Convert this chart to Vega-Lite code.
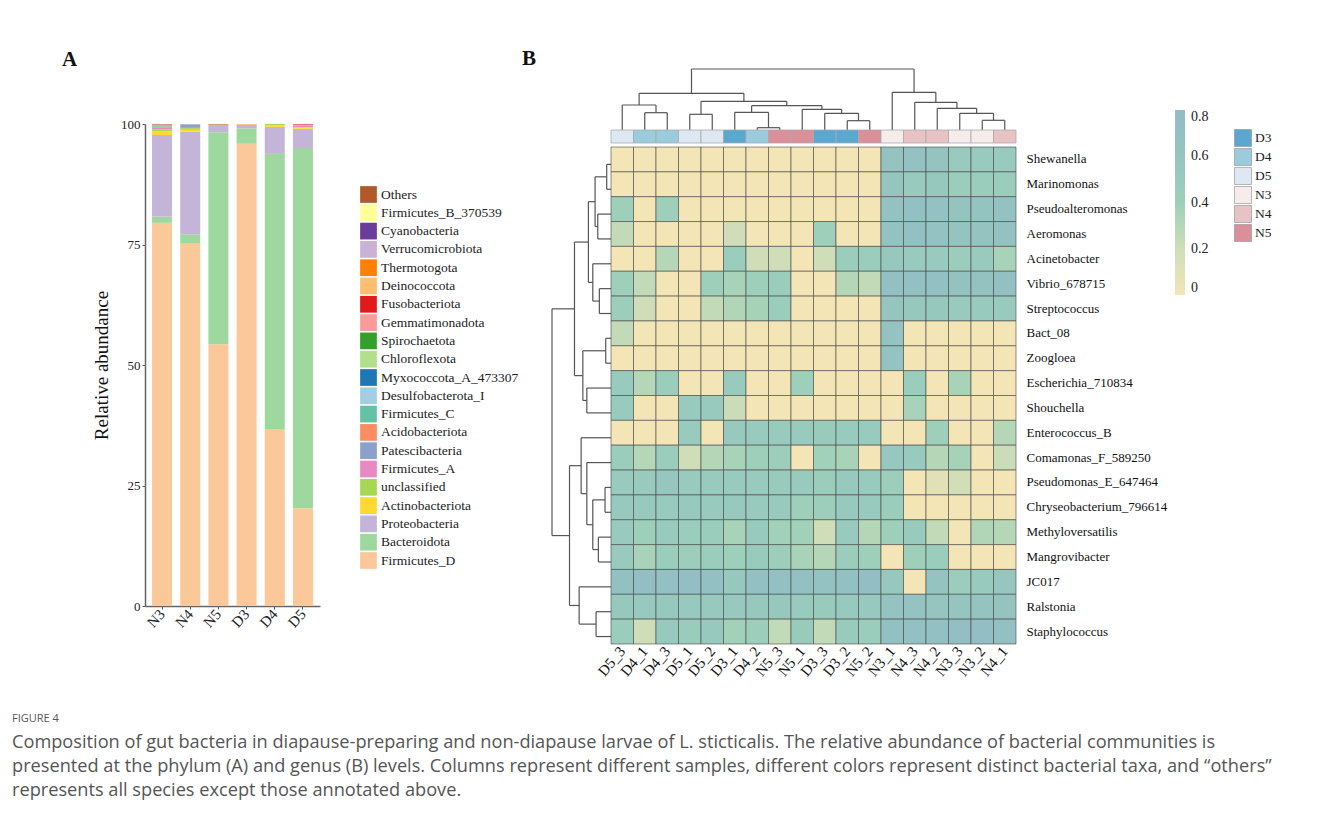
{
"$schema": "https://vega.github.io/schema/vega-lite/v6.json",
"background": "white",
"padding": {"left": 12, "top": 48, "right": 5, "bottom": 5},
"config": {"view": {"stroke": null}, "font": "Liberation Serif", "axis": {"grid": false}},
"title": {
  "text": "FIGURE 4",
  "subtitle": ["Composition of gut bacteria in diapause-preparing and non-diapause larvae of L. sticticalis. The relative abundance of bacterial communities is", "presented at the phylum (A) and genus (B) levels. Columns represent different samples, different colors represent distinct bacterial taxa, and “others”", "represents all species except those annotated above."],
  "orient": "bottom", "anchor": "start", "frame": "bounds", "dx": -50, "offset": 34,
  "font": "Open Sans", "fontSize": 11, "fontWeight": "normal", "color": "#555",
  "subtitleFont": "Open Sans", "subtitleFontSize": 18.2, "subtitleColor": "#555", "subtitleLineHeight": 24, "subtitlePadding": 10
},
"datasets": {
  "phyla": [
    {"s":"N3","p":"Firmicutes_D","v":79.5,"r":1},{"s":"N3","p":"Bacteroidota","v":1.3,"r":2},{"s":"N3","p":"Proteobacteria","v":16.9,"r":3},{"s":"N3","p":"Actinobacteriota","v":0.8,"r":4},{"s":"N3","p":"unclassified","v":0.35,"r":5},{"s":"N3","p":"Firmicutes_A","v":0.4,"r":6},{"s":"N3","p":"Patescibacteria","v":0.1,"r":7},{"s":"N3","p":"Acidobacteriota","v":0.1,"r":8},{"s":"N3","p":"Firmicutes_C","v":0.3,"r":9},{"s":"N3","p":"Desulfobacterota_I","v":0.05,"r":10},{"s":"N3","p":"Gemmatimonadota","v":0.1,"r":14},{"s":"N3","p":"Others","v":0.1,"r":21},
    {"s":"N4","p":"Firmicutes_D","v":75.3,"r":1},{"s":"N4","p":"Bacteroidota","v":1.8,"r":2},{"s":"N4","p":"Proteobacteria","v":21.3,"r":3},{"s":"N4","p":"Actinobacteriota","v":0.4,"r":4},{"s":"N4","p":"unclassified","v":0.35,"r":5},{"s":"N4","p":"Firmicutes_A","v":0.05,"r":6},{"s":"N4","p":"Patescibacteria","v":0.7,"r":7},{"s":"N4","p":"Acidobacteriota","v":0.05,"r":8},{"s":"N4","p":"Firmicutes_C","v":0.05,"r":9},
    {"s":"N5","p":"Firmicutes_D","v":54.3,"r":1},{"s":"N5","p":"Bacteroidota","v":44.0,"r":2},{"s":"N5","p":"Proteobacteria","v":1.5,"r":3},{"s":"N5","p":"Deinococcota","v":0.1,"r":16},{"s":"N5","p":"Others","v":0.1,"r":21},
    {"s":"D3","p":"Firmicutes_D","v":95.9,"r":1},{"s":"D3","p":"Bacteroidota","v":3.2,"r":2},{"s":"D3","p":"Proteobacteria","v":0.7,"r":3},{"s":"D3","p":"Acidobacteriota","v":0.1,"r":8},{"s":"D3","p":"Deinococcota","v":0.1,"r":16},
    {"s":"D4","p":"Firmicutes_D","v":36.7,"r":1},{"s":"D4","p":"Bacteroidota","v":57.1,"r":2},{"s":"D4","p":"Proteobacteria","v":5.6,"r":3},{"s":"D4","p":"Actinobacteriota","v":0.3,"r":4},{"s":"D4","p":"unclassified","v":0.3,"r":5},
    {"s":"D5","p":"Firmicutes_D","v":20.3,"r":1},{"s":"D5","p":"Bacteroidota","v":74.7,"r":2},{"s":"D5","p":"Proteobacteria","v":4.0,"r":3},{"s":"D5","p":"Actinobacteriota","v":0.3,"r":4},{"s":"D5","p":"Firmicutes_A","v":0.4,"r":6},{"s":"D5","p":"Gemmatimonadota","v":0.2,"r":14},{"s":"D5","p":"Fusobacteriota","v":0.1,"r":15}
  ],
  "groups": [
    {"s":"D5_3","grp":"D5"},{"s":"D4_1","grp":"D4"},{"s":"D4_3","grp":"D4"},{"s":"D5_1","grp":"D5"},{"s":"D5_2","grp":"D5"},{"s":"D3_1","grp":"D3"},{"s":"D4_2","grp":"D4"},{"s":"N5_3","grp":"N5"},{"s":"N5_1","grp":"N5"},{"s":"D3_3","grp":"D3"},{"s":"D3_2","grp":"D3"},{"s":"N5_2","grp":"N5"},{"s":"N3_1","grp":"N3"},{"s":"N4_3","grp":"N4"},{"s":"N4_2","grp":"N4"},{"s":"N3_3","grp":"N3"},{"s":"N3_2","grp":"N3"},{"s":"N4_1","grp":"N4"}
  ],
  "dtop": [
    {"a":1.5,"b":2.5,"h":17.3,"ha":0,"hb":0},{"a":0.5,"b":2.0,"h":25,"ha":0,"hb":17.3},{"a":3.5,"b":4.5,"h":15.7,"ha":0,"hb":0},{"a":6.5,"b":7.5,"h":2.3,"ha":0,"hb":0},{"a":5.5,"b":7.0,"h":17.7,"ha":0,"hb":2.3},{"a":10.5,"b":11.5,"h":9.3,"ha":0,"hb":0},{"a":9.5,"b":11.0,"h":16.7,"ha":0,"hb":9.3},{"a":8.5,"b":10.25,"h":20.7,"ha":0,"hb":16.7},{"a":6.25,"b":9.375,"h":24.3,"ha":17.7,"hb":20.7},{"a":4.0,"b":7.8125,"h":28.7,"ha":15.7,"hb":24.3},{"a":1.25,"b":5.906,"h":36.7,"ha":25,"hb":28.7},
    {"a":16.5,"b":17.5,"h":9.7,"ha":0,"hb":0},{"a":15.5,"b":17.0,"h":16.7,"ha":0,"hb":9.7},{"a":14.5,"b":16.25,"h":21.7,"ha":0,"hb":16.7},{"a":13.5,"b":15.375,"h":27.7,"ha":0,"hb":21.7},{"a":12.5,"b":14.4375,"h":37.7,"ha":0,"hb":27.7},{"a":3.578,"b":13.469,"h":61,"ha":36.7,"hb":37.7}
  ],
  "dleft": [
    {"a":0.5,"b":1.5,"h":4.3,"ha":0,"hb":0},{"a":2.5,"b":3.5,"h":13.3,"ha":0,"hb":0},{"a":1.0,"b":3.0,"h":16,"ha":4.3,"hb":13.3},{"a":5.5,"b":6.5,"h":11.7,"ha":0,"hb":0},{"a":4.5,"b":6.0,"h":18.3,"ha":0,"hb":11.7},{"a":2.0,"b":5.25,"h":22.7,"ha":16,"hb":18.3},{"a":7.5,"b":8.5,"h":5.3,"ha":0,"hb":0},{"a":9.5,"b":10.5,"h":24.3,"ha":0,"hb":0},{"a":8.0,"b":10.0,"h":28.3,"ha":5.3,"hb":24.3},{"a":3.625,"b":9.0,"h":36.7,"ha":22.7,"hb":28.3},
    {"a":13.5,"b":14.5,"h":6,"ha":0,"hb":0},{"a":15.5,"b":16.5,"h":12.7,"ha":0,"hb":0},{"a":14.0,"b":16.0,"h":18.3,"ha":6,"hb":12.7},{"a":12.5,"b":15.0,"h":24.3,"ha":0,"hb":18.3},{"a":11.5,"b":13.75,"h":30,"ha":0,"hb":24.3},{"a":18.5,"b":19.5,"h":15,"ha":0,"hb":0},{"a":17.5,"b":19.0,"h":32,"ha":0,"hb":15},{"a":12.625,"b":18.25,"h":41.7,"ha":30,"hb":32},{"a":6.3125,"b":15.4375,"h":59.3,"ha":36.7,"hb":41.7}
  ],
  "heat": [
    {"g":"Shewanella","s":"D5_3","v":0},{"g":"Shewanella","s":"D4_1","v":0},{"g":"Shewanella","s":"D4_3","v":0},{"g":"Shewanella","s":"D5_1","v":0},{"g":"Shewanella","s":"D5_2","v":0},{"g":"Shewanella","s":"D3_1","v":0},{"g":"Shewanella","s":"D4_2","v":0},{"g":"Shewanella","s":"N5_3","v":0},{"g":"Shewanella","s":"N5_1","v":0},{"g":"Shewanella","s":"D3_3","v":0},{"g":"Shewanella","s":"D3_2","v":0},{"g":"Shewanella","s":"N5_2","v":0},{"g":"Shewanella","s":"N3_1","v":0.62},{"g":"Shewanella","s":"N4_3","v":0.68},{"g":"Shewanella","s":"N4_2","v":0.62},{"g":"Shewanella","s":"N3_3","v":0.5},{"g":"Shewanella","s":"N3_2","v":0.5},{"g":"Shewanella","s":"N4_1","v":0.5},
    {"g":"Marinomonas","s":"D5_3","v":0},{"g":"Marinomonas","s":"D4_1","v":0},{"g":"Marinomonas","s":"D4_3","v":0},{"g":"Marinomonas","s":"D5_1","v":0},{"g":"Marinomonas","s":"D5_2","v":0},{"g":"Marinomonas","s":"D3_1","v":0},{"g":"Marinomonas","s":"D4_2","v":0},{"g":"Marinomonas","s":"N5_3","v":0},{"g":"Marinomonas","s":"N5_1","v":0},{"g":"Marinomonas","s":"D3_3","v":0},{"g":"Marinomonas","s":"D3_2","v":0},{"g":"Marinomonas","s":"N5_2","v":0},{"g":"Marinomonas","s":"N3_1","v":0.6},{"g":"Marinomonas","s":"N4_3","v":0.5},{"g":"Marinomonas","s":"N4_2","v":0.55},{"g":"Marinomonas","s":"N3_3","v":0.45},{"g":"Marinomonas","s":"N3_2","v":0.45},{"g":"Marinomonas","s":"N4_1","v":0.45},
    {"g":"Pseudoalteromonas","s":"D5_3","v":0.4},{"g":"Pseudoalteromonas","s":"D4_1","v":0},{"g":"Pseudoalteromonas","s":"D4_3","v":0.4},{"g":"Pseudoalteromonas","s":"D5_1","v":0},{"g":"Pseudoalteromonas","s":"D5_2","v":0},{"g":"Pseudoalteromonas","s":"D3_1","v":0},{"g":"Pseudoalteromonas","s":"D4_2","v":0},{"g":"Pseudoalteromonas","s":"N5_3","v":0},{"g":"Pseudoalteromonas","s":"N5_1","v":0},{"g":"Pseudoalteromonas","s":"D3_3","v":0},{"g":"Pseudoalteromonas","s":"D3_2","v":0},{"g":"Pseudoalteromonas","s":"N5_2","v":0},{"g":"Pseudoalteromonas","s":"N3_1","v":0.68},{"g":"Pseudoalteromonas","s":"N4_3","v":0.72},{"g":"Pseudoalteromonas","s":"N4_2","v":0.68},{"g":"Pseudoalteromonas","s":"N3_3","v":0.62},{"g":"Pseudoalteromonas","s":"N3_2","v":0.62},{"g":"Pseudoalteromonas","s":"N4_1","v":0.68},
    {"g":"Aeromonas","s":"D5_3","v":0.25},{"g":"Aeromonas","s":"D4_1","v":0},{"g":"Aeromonas","s":"D4_3","v":0},{"g":"Aeromonas","s":"D5_1","v":0},{"g":"Aeromonas","s":"D5_2","v":0},{"g":"Aeromonas","s":"D3_1","v":0.2},{"g":"Aeromonas","s":"D4_2","v":0},{"g":"Aeromonas","s":"N5_3","v":0},{"g":"Aeromonas","s":"N5_1","v":0},{"g":"Aeromonas","s":"D3_3","v":0.4},{"g":"Aeromonas","s":"D3_2","v":0},{"g":"Aeromonas","s":"N5_2","v":0},{"g":"Aeromonas","s":"N3_1","v":0.68},{"g":"Aeromonas","s":"N4_3","v":0.72},{"g":"Aeromonas","s":"N4_2","v":0.68},{"g":"Aeromonas","s":"N3_3","v":0.62},{"g":"Aeromonas","s":"N3_2","v":0.62},{"g":"Aeromonas","s":"N4_1","v":0.66},
    {"g":"Acinetobacter","s":"D5_3","v":0},{"g":"Acinetobacter","s":"D4_1","v":0},{"g":"Acinetobacter","s":"D4_3","v":0.3},{"g":"Acinetobacter","s":"D5_1","v":0},{"g":"Acinetobacter","s":"D5_2","v":0},{"g":"Acinetobacter","s":"D3_1","v":0.45},{"g":"Acinetobacter","s":"D4_2","v":0.2},{"g":"Acinetobacter","s":"N5_3","v":0.2},{"g":"Acinetobacter","s":"N5_1","v":0},{"g":"Acinetobacter","s":"D3_3","v":0.2},{"g":"Acinetobacter","s":"D3_2","v":0.45},{"g":"Acinetobacter","s":"N5_2","v":0.45},{"g":"Acinetobacter","s":"N3_1","v":0.55},{"g":"Acinetobacter","s":"N4_3","v":0.5},{"g":"Acinetobacter","s":"N4_2","v":0.5},{"g":"Acinetobacter","s":"N3_3","v":0.45},{"g":"Acinetobacter","s":"N3_2","v":0.5},{"g":"Acinetobacter","s":"N4_1","v":0.35},
    {"g":"Vibrio_678715","s":"D5_3","v":0.4},{"g":"Vibrio_678715","s":"D4_1","v":0.25},{"g":"Vibrio_678715","s":"D4_3","v":0},{"g":"Vibrio_678715","s":"D5_1","v":0},{"g":"Vibrio_678715","s":"D5_2","v":0.4},{"g":"Vibrio_678715","s":"D3_1","v":0.35},{"g":"Vibrio_678715","s":"D4_2","v":0.4},{"g":"Vibrio_678715","s":"N5_3","v":0.45},{"g":"Vibrio_678715","s":"N5_1","v":0},{"g":"Vibrio_678715","s":"D3_3","v":0},{"g":"Vibrio_678715","s":"D3_2","v":0.3},{"g":"Vibrio_678715","s":"N5_2","v":0.25},{"g":"Vibrio_678715","s":"N3_1","v":0.72},{"g":"Vibrio_678715","s":"N4_3","v":0.72},{"g":"Vibrio_678715","s":"N4_2","v":0.7},{"g":"Vibrio_678715","s":"N3_3","v":0.66},{"g":"Vibrio_678715","s":"N3_2","v":0.66},{"g":"Vibrio_678715","s":"N4_1","v":0.7},
    {"g":"Streptococcus","s":"D5_3","v":0.42},{"g":"Streptococcus","s":"D4_1","v":0.2},{"g":"Streptococcus","s":"D4_3","v":0},{"g":"Streptococcus","s":"D5_1","v":0},{"g":"Streptococcus","s":"D5_2","v":0.25},{"g":"Streptococcus","s":"D3_1","v":0.32},{"g":"Streptococcus","s":"D4_2","v":0.36},{"g":"Streptococcus","s":"N5_3","v":0.45},{"g":"Streptococcus","s":"N5_1","v":0},{"g":"Streptococcus","s":"D3_3","v":0},{"g":"Streptococcus","s":"D3_2","v":0},{"g":"Streptococcus","s":"N5_2","v":0},{"g":"Streptococcus","s":"N3_1","v":0.6},{"g":"Streptococcus","s":"N4_3","v":0.55},{"g":"Streptococcus","s":"N4_2","v":0.55},{"g":"Streptococcus","s":"N3_3","v":0.5},{"g":"Streptococcus","s":"N3_2","v":0.5},{"g":"Streptococcus","s":"N4_1","v":0.5},
    {"g":"Bact_08","s":"D5_3","v":0.25},{"g":"Bact_08","s":"D4_1","v":0},{"g":"Bact_08","s":"D4_3","v":0},{"g":"Bact_08","s":"D5_1","v":0},{"g":"Bact_08","s":"D5_2","v":0},{"g":"Bact_08","s":"D3_1","v":0},{"g":"Bact_08","s":"D4_2","v":0},{"g":"Bact_08","s":"N5_3","v":0},{"g":"Bact_08","s":"N5_1","v":0},{"g":"Bact_08","s":"D3_3","v":0},{"g":"Bact_08","s":"D3_2","v":0},{"g":"Bact_08","s":"N5_2","v":0},{"g":"Bact_08","s":"N3_1","v":0.65},{"g":"Bact_08","s":"N4_3","v":0},{"g":"Bact_08","s":"N4_2","v":0},{"g":"Bact_08","s":"N3_3","v":0},{"g":"Bact_08","s":"N3_2","v":0},{"g":"Bact_08","s":"N4_1","v":0},
    {"g":"Zoogloea","s":"D5_3","v":0},{"g":"Zoogloea","s":"D4_1","v":0},{"g":"Zoogloea","s":"D4_3","v":0},{"g":"Zoogloea","s":"D5_1","v":0},{"g":"Zoogloea","s":"D5_2","v":0},{"g":"Zoogloea","s":"D3_1","v":0},{"g":"Zoogloea","s":"D4_2","v":0},{"g":"Zoogloea","s":"N5_3","v":0},{"g":"Zoogloea","s":"N5_1","v":0},{"g":"Zoogloea","s":"D3_3","v":0},{"g":"Zoogloea","s":"D3_2","v":0},{"g":"Zoogloea","s":"N5_2","v":0},{"g":"Zoogloea","s":"N3_1","v":0.65},{"g":"Zoogloea","s":"N4_3","v":0},{"g":"Zoogloea","s":"N4_2","v":0},{"g":"Zoogloea","s":"N3_3","v":0},{"g":"Zoogloea","s":"N3_2","v":0},{"g":"Zoogloea","s":"N4_1","v":0},
    {"g":"Escherichia_710834","s":"D5_3","v":0.5},{"g":"Escherichia_710834","s":"D4_1","v":0.3},{"g":"Escherichia_710834","s":"D4_3","v":0.45},{"g":"Escherichia_710834","s":"D5_1","v":0},{"g":"Escherichia_710834","s":"D5_2","v":0},{"g":"Escherichia_710834","s":"D3_1","v":0.5},{"g":"Escherichia_710834","s":"D4_2","v":0},{"g":"Escherichia_710834","s":"N5_3","v":0},{"g":"Escherichia_710834","s":"N5_1","v":0.4},{"g":"Escherichia_710834","s":"D3_3","v":0},{"g":"Escherichia_710834","s":"D3_2","v":0},{"g":"Escherichia_710834","s":"N5_2","v":0},{"g":"Escherichia_710834","s":"N3_1","v":0},{"g":"Escherichia_710834","s":"N4_3","v":0.45},{"g":"Escherichia_710834","s":"N4_2","v":0},{"g":"Escherichia_710834","s":"N3_3","v":0.35},{"g":"Escherichia_710834","s":"N3_2","v":0},{"g":"Escherichia_710834","s":"N4_1","v":0},
    {"g":"Shouchella","s":"D5_3","v":0.5},{"g":"Shouchella","s":"D4_1","v":0},{"g":"Shouchella","s":"D4_3","v":0},{"g":"Shouchella","s":"D5_1","v":0.5},{"g":"Shouchella","s":"D5_2","v":0.5},{"g":"Shouchella","s":"D3_1","v":0.22},{"g":"Shouchella","s":"D4_2","v":0},{"g":"Shouchella","s":"N5_3","v":0},{"g":"Shouchella","s":"N5_1","v":0},{"g":"Shouchella","s":"D3_3","v":0},{"g":"Shouchella","s":"D3_2","v":0},{"g":"Shouchella","s":"N5_2","v":0},{"g":"Shouchella","s":"N3_1","v":0},{"g":"Shouchella","s":"N4_3","v":0.35},{"g":"Shouchella","s":"N4_2","v":0},{"g":"Shouchella","s":"N3_3","v":0},{"g":"Shouchella","s":"N3_2","v":0},{"g":"Shouchella","s":"N4_1","v":0},
    {"g":"Enterococcus_B","s":"D5_3","v":0},{"g":"Enterococcus_B","s":"D4_1","v":0},{"g":"Enterococcus_B","s":"D4_3","v":0},{"g":"Enterococcus_B","s":"D5_1","v":0.5},{"g":"Enterococcus_B","s":"D5_2","v":0},{"g":"Enterococcus_B","s":"D3_1","v":0.52},{"g":"Enterococcus_B","s":"D4_2","v":0.5},{"g":"Enterococcus_B","s":"N5_3","v":0.5},{"g":"Enterococcus_B","s":"N5_1","v":0.5},{"g":"Enterococcus_B","s":"D3_3","v":0.48},{"g":"Enterococcus_B","s":"D3_2","v":0.5},{"g":"Enterococcus_B","s":"N5_2","v":0.5},{"g":"Enterococcus_B","s":"N3_1","v":0},{"g":"Enterococcus_B","s":"N4_3","v":0},{"g":"Enterococcus_B","s":"N4_2","v":0.4},{"g":"Enterococcus_B","s":"N3_3","v":0},{"g":"Enterococcus_B","s":"N3_2","v":0},{"g":"Enterococcus_B","s":"N4_1","v":0.3},
    {"g":"Comamonas_F_589250","s":"D5_3","v":0.45},{"g":"Comamonas_F_589250","s":"D4_1","v":0.3},{"g":"Comamonas_F_589250","s":"D4_3","v":0.45},{"g":"Comamonas_F_589250","s":"D5_1","v":0.2},{"g":"Comamonas_F_589250","s":"D5_2","v":0.3},{"g":"Comamonas_F_589250","s":"D3_1","v":0.35},{"g":"Comamonas_F_589250","s":"D4_2","v":0.4},{"g":"Comamonas_F_589250","s":"N5_3","v":0.42},{"g":"Comamonas_F_589250","s":"N5_1","v":0},{"g":"Comamonas_F_589250","s":"D3_3","v":0.38},{"g":"Comamonas_F_589250","s":"D3_2","v":0.35},{"g":"Comamonas_F_589250","s":"N5_2","v":0},{"g":"Comamonas_F_589250","s":"N3_1","v":0.56},{"g":"Comamonas_F_589250","s":"N4_3","v":0.5},{"g":"Comamonas_F_589250","s":"N4_2","v":0.3},{"g":"Comamonas_F_589250","s":"N3_3","v":0.36},{"g":"Comamonas_F_589250","s":"N3_2","v":0},{"g":"Comamonas_F_589250","s":"N4_1","v":0.22},
    {"g":"Pseudomonas_E_647464","s":"D5_3","v":0.5},{"g":"Pseudomonas_E_647464","s":"D4_1","v":0.5},{"g":"Pseudomonas_E_647464","s":"D4_3","v":0.58},{"g":"Pseudomonas_E_647464","s":"D5_1","v":0.5},{"g":"Pseudomonas_E_647464","s":"D5_2","v":0.5},{"g":"Pseudomonas_E_647464","s":"D3_1","v":0.5},{"g":"Pseudomonas_E_647464","s":"D4_2","v":0.5},{"g":"Pseudomonas_E_647464","s":"N5_3","v":0.48},{"g":"Pseudomonas_E_647464","s":"N5_1","v":0.5},{"g":"Pseudomonas_E_647464","s":"D3_3","v":0.45},{"g":"Pseudomonas_E_647464","s":"D3_2","v":0.52},{"g":"Pseudomonas_E_647464","s":"N5_2","v":0.5},{"g":"Pseudomonas_E_647464","s":"N3_1","v":0.42},{"g":"Pseudomonas_E_647464","s":"N4_3","v":0},{"g":"Pseudomonas_E_647464","s":"N4_2","v":0.1},{"g":"Pseudomonas_E_647464","s":"N3_3","v":0.18},{"g":"Pseudomonas_E_647464","s":"N3_2","v":0},{"g":"Pseudomonas_E_647464","s":"N4_1","v":0},
    {"g":"Chryseobacterium_796614","s":"D5_3","v":0.52},{"g":"Chryseobacterium_796614","s":"D4_1","v":0.52},{"g":"Chryseobacterium_796614","s":"D4_3","v":0.5},{"g":"Chryseobacterium_796614","s":"D5_1","v":0.52},{"g":"Chryseobacterium_796614","s":"D5_2","v":0.5},{"g":"Chryseobacterium_796614","s":"D3_1","v":0.52},{"g":"Chryseobacterium_796614","s":"D4_2","v":0.5},{"g":"Chryseobacterium_796614","s":"N5_3","v":0.5},{"g":"Chryseobacterium_796614","s":"N5_1","v":0.4},{"g":"Chryseobacterium_796614","s":"D3_3","v":0.42},{"g":"Chryseobacterium_796614","s":"D3_2","v":0.52},{"g":"Chryseobacterium_796614","s":"N5_2","v":0.5},{"g":"Chryseobacterium_796614","s":"N3_1","v":0.45},{"g":"Chryseobacterium_796614","s":"N4_3","v":0},{"g":"Chryseobacterium_796614","s":"N4_2","v":0},{"g":"Chryseobacterium_796614","s":"N3_3","v":0},{"g":"Chryseobacterium_796614","s":"N3_2","v":0},{"g":"Chryseobacterium_796614","s":"N4_1","v":0},
    {"g":"Methyloversatilis","s":"D5_3","v":0.5},{"g":"Methyloversatilis","s":"D4_1","v":0.4},{"g":"Methyloversatilis","s":"D4_3","v":0.5},{"g":"Methyloversatilis","s":"D5_1","v":0.45},{"g":"Methyloversatilis","s":"D5_2","v":0.45},{"g":"Methyloversatilis","s":"D3_1","v":0.35},{"g":"Methyloversatilis","s":"D4_2","v":0.5},{"g":"Methyloversatilis","s":"N5_3","v":0.38},{"g":"Methyloversatilis","s":"N5_1","v":0.38},{"g":"Methyloversatilis","s":"D3_3","v":0.2},{"g":"Methyloversatilis","s":"D3_2","v":0.5},{"g":"Methyloversatilis","s":"N5_2","v":0.3},{"g":"Methyloversatilis","s":"N3_1","v":0.4},{"g":"Methyloversatilis","s":"N4_3","v":0.5},{"g":"Methyloversatilis","s":"N4_2","v":0.25},{"g":"Methyloversatilis","s":"N3_3","v":0},{"g":"Methyloversatilis","s":"N3_2","v":0.32},{"g":"Methyloversatilis","s":"N4_1","v":0.3},
    {"g":"Mangrovibacter","s":"D5_3","v":0.5},{"g":"Mangrovibacter","s":"D4_1","v":0.35},{"g":"Mangrovibacter","s":"D4_3","v":0.45},{"g":"Mangrovibacter","s":"D5_1","v":0.42},{"g":"Mangrovibacter","s":"D5_2","v":0.45},{"g":"Mangrovibacter","s":"D3_1","v":0.4},{"g":"Mangrovibacter","s":"D4_2","v":0.48},{"g":"Mangrovibacter","s":"N5_3","v":0.42},{"g":"Mangrovibacter","s":"N5_1","v":0.35},{"g":"Mangrovibacter","s":"D3_3","v":0.3},{"g":"Mangrovibacter","s":"D3_2","v":0.45},{"g":"Mangrovibacter","s":"N5_2","v":0.4},{"g":"Mangrovibacter","s":"N3_1","v":0},{"g":"Mangrovibacter","s":"N4_3","v":0.4},{"g":"Mangrovibacter","s":"N4_2","v":0.45},{"g":"Mangrovibacter","s":"N3_3","v":0},{"g":"Mangrovibacter","s":"N3_2","v":0},{"g":"Mangrovibacter","s":"N4_1","v":0},
    {"g":"JC017","s":"D5_3","v":0.72},{"g":"JC017","s":"D4_1","v":0.74},{"g":"JC017","s":"D4_3","v":0.72},{"g":"JC017","s":"D5_1","v":0.74},{"g":"JC017","s":"D5_2","v":0.72},{"g":"JC017","s":"D3_1","v":0.55},{"g":"JC017","s":"D4_2","v":0.72},{"g":"JC017","s":"N5_3","v":0.72},{"g":"JC017","s":"N5_1","v":0.72},{"g":"JC017","s":"D3_3","v":0.68},{"g":"JC017","s":"D3_2","v":0.72},{"g":"JC017","s":"N5_2","v":0.75},{"g":"JC017","s":"N3_1","v":0.55},{"g":"JC017","s":"N4_3","v":0},{"g":"JC017","s":"N4_2","v":0.62},{"g":"JC017","s":"N3_3","v":0.45},{"g":"JC017","s":"N3_2","v":0.5},{"g":"JC017","s":"N4_1","v":0.58},
    {"g":"Ralstonia","s":"D5_3","v":0.55},{"g":"Ralstonia","s":"D4_1","v":0.52},{"g":"Ralstonia","s":"D4_3","v":0.55},{"g":"Ralstonia","s":"D5_1","v":0.52},{"g":"Ralstonia","s":"D5_2","v":0.52},{"g":"Ralstonia","s":"D3_1","v":0.52},{"g":"Ralstonia","s":"D4_2","v":0.55},{"g":"Ralstonia","s":"N5_3","v":0.55},{"g":"Ralstonia","s":"N5_1","v":0.5},{"g":"Ralstonia","s":"D3_3","v":0.48},{"g":"Ralstonia","s":"D3_2","v":0.52},{"g":"Ralstonia","s":"N5_2","v":0.52},{"g":"Ralstonia","s":"N3_1","v":0.65},{"g":"Ralstonia","s":"N4_3","v":0.65},{"g":"Ralstonia","s":"N4_2","v":0.6},{"g":"Ralstonia","s":"N3_3","v":0.6},{"g":"Ralstonia","s":"N3_2","v":0.62},{"g":"Ralstonia","s":"N4_1","v":0.62},
    {"g":"Staphylococcus","s":"D5_3","v":0.45},{"g":"Staphylococcus","s":"D4_1","v":0.2},{"g":"Staphylococcus","s":"D4_3","v":0.52},{"g":"Staphylococcus","s":"D5_1","v":0.46},{"g":"Staphylococcus","s":"D5_2","v":0.52},{"g":"Staphylococcus","s":"D3_1","v":0.38},{"g":"Staphylococcus","s":"D4_2","v":0.42},{"g":"Staphylococcus","s":"N5_3","v":0.25},{"g":"Staphylococcus","s":"N5_1","v":0.48},{"g":"Staphylococcus","s":"D3_3","v":0.25},{"g":"Staphylococcus","s":"D3_2","v":0.48},{"g":"Staphylococcus","s":"N5_2","v":0.45},{"g":"Staphylococcus","s":"N3_1","v":0.7},{"g":"Staphylococcus","s":"N4_3","v":0.72},{"g":"Staphylococcus","s":"N4_2","v":0.72},{"g":"Staphylococcus","s":"N3_3","v":0.76},{"g":"Staphylococcus","s":"N3_2","v":0.74},{"g":"Staphylococcus","s":"N4_1","v":0.72}
  ]
},
"hconcat": [
  {
    "title": {"text": "A", "anchor": "start", "frame": "group", "dx": -83, "offset": -1, "fontSize": 21, "font": "Liberation Serif", "fontWeight": "bold", "color": "#111"},
    "spacing": 0,
    "bounds": "flush",
    "vconcat": [
      {"width": 175, "height": 55, "data": {"values": []}, "mark": "rect", "encoding": {}},
      {
        "width": 175, "height": 482,
        "data": {"name": "phyla"},
        "mark": {"type": "bar"},
        "encoding": {
          "x": {"field": "s", "type": "nominal", "sort": ["N3","N4","N5","D3","D4","D5"], "scale": {"paddingInner": 0.29, "paddingOuter": 0.25},
                "axis": {"title": null, "labelAngle": -48, "labelFont": "Liberation Serif", "labelFontSize": 15, "labelColor": "#222", "domainColor": "#666", "domainWidth": 1.5, "tickColor": "#555", "tickSize": 3}},
          "y": {"field": "v", "type": "quantitative", "stack": "zero", "scale": {"domain": [0, 100], "nice": false},
                "axis": {"title": "Relative abundance", "values": [0, 25, 50, 75, 100], "labelFont": "Liberation Serif", "labelFontSize": 13, "labelColor": "#222", "domainColor": "#666", "domainWidth": 1.5, "tickColor": "#555", "tickSize": 3, "labelPadding": 2, "titleFont": "Liberation Serif", "titleFontSize": 19, "titleFontWeight": "normal", "titleColor": "#111", "titlePadding": 9}},
          "color": {"field": "p", "type": "nominal",
            "scale": {"domain": ["Others","Firmicutes_B_370539","Cyanobacteria","Verrucomicrobiota","Thermotogota","Deinococcota","Fusobacteriota","Gemmatimonadota","Spirochaetota","Chloroflexota","Myxococcota_A_473307","Desulfobacterota_I","Firmicutes_C","Acidobacteriota","Patescibacteria","Firmicutes_A","unclassified","Actinobacteriota","Proteobacteria","Bacteroidota","Firmicutes_D"],
                      "range": ["#B15928","#FFFF99","#6A3D9A","#CAB2D6","#FF7F00","#FDBF6F","#E31A1C","#FB9A99","#33A02C","#B2DF8A","#1F78B4","#A6CEE3","#66C2A5","#FC8D62","#8DA0CB","#E78AC3","#A6D854","#FFD92F","#C3B4D8","#9ED89E","#FBC899"]},
            "legend": {"title": null, "orient": "none", "legendX": 215, "legendY": 117, "symbolType": "square", "symbolSize": 280, "symbolStrokeWidth": 0, "rowPadding": 1.3, "labelOffset": 4, "labelFont": "Liberation Serif", "labelFontSize": 13.5, "labelColor": "#222", "padding": 0, "labelLimit": 300}},
          "order": {"field": "r", "type": "quantitative"}
        }
      }
    ]
  },
  {
    "title": {"text": "B", "anchor": "start", "frame": "group", "dx": -30, "offset": -1, "fontSize": 21, "font": "Liberation Serif", "fontWeight": "bold", "color": "#111"},
    "columns": 2,
    "bounds": "flush",
    "align": "each",
    "spacing": {"row": 0, "column": 0},
    "resolve": {"scale": {"color": "independent", "fill": "independent"}, "legend": {"color": "independent", "fill": "independent"}},
    "concat": [
      {"width": 59, "height": 61, "data": {"values": []}, "mark": "rect", "encoding": {}},
      {
        "width": 405, "height": 61,
        "data": {"name": "dtop"},
        "layer": [
          {"mark": {"type": "rule", "color": "#555", "strokeWidth": 1.2},
           "encoding": {"x": {"field": "a", "type": "quantitative", "scale": {"domain": [0, 18], "nice": false, "zero": false}, "axis": null},
                        "x2": {"field": "b"},
                        "y": {"field": "h", "type": "quantitative", "scale": {"domain": [0, 61], "nice": false}, "axis": null}}},
          {"mark": {"type": "rule", "color": "#555", "strokeWidth": 1.2},
           "encoding": {"x": {"field": "a", "type": "quantitative"}, "y": {"field": "ha", "type": "quantitative"}, "y2": {"field": "h"}}},
          {"mark": {"type": "rule", "color": "#555", "strokeWidth": 1.2},
           "encoding": {"x": {"field": "b", "type": "quantitative"}, "y": {"field": "hb", "type": "quantitative"}, "y2": {"field": "h"}}}
        ]
      },
      {"width": 59, "height": 17, "data": {"values": []}, "mark": "rect", "encoding": {}},
      {
        "width": 405, "height": 17,
        "data": {"name": "groups"},
        "mark": {"type": "rect", "stroke": "#aaa", "strokeWidth": 0.8},
        "encoding": {
          "x": {"field": "s", "type": "nominal", "sort": ["D5_3","D4_1","D4_3","D5_1","D5_2","D3_1","D4_2","N5_3","N5_1","D3_3","D3_2","N5_2","N3_1","N4_3","N4_2","N3_3","N3_2","N4_1"], "scale": {"paddingInner": 0, "paddingOuter": 0}, "axis": null},
          "y": {"datum": "grp", "type": "nominal", "scale": {"paddingInner": 0, "paddingOuter": 0.1538, "align": 0}, "axis": null},
          "fill": {"field": "grp", "type": "nominal",
                   "scale": {"domain": ["D3","D4","D5","N3","N4","N5"], "range": ["#5AA8D0","#9BCCDE","#DDE8F3","#F7ECEC","#E8C3C5","#D9909A"]},
                   "legend": {"title": null, "orient": "none", "legendX": 623, "legendY": -1, "symbolType": "square", "symbolSize": 290, "symbolStrokeColor": "#999", "symbolStrokeWidth": 0.7, "rowPadding": -2.25, "labelOffset": 3, "labelFont": "Liberation Serif", "labelFontSize": 13.5, "labelColor": "#222", "padding": 0}}
        }
      },
      {
        "width": 59, "height": 497,
        "data": {"name": "dleft"},
        "layer": [
          {"mark": {"type": "rule", "color": "#555", "strokeWidth": 1.2},
           "encoding": {"y": {"field": "a", "type": "quantitative", "scale": {"domain": [-0.2, 19.8], "nice": false, "zero": false, "reverse": true}, "axis": null},
                        "y2": {"field": "b"},
                        "x": {"field": "h", "type": "quantitative", "scale": {"domain": [0, 59.3], "nice": false, "reverse": true}, "axis": null}}},
          {"mark": {"type": "rule", "color": "#555", "strokeWidth": 1.2},
           "encoding": {"y": {"field": "a", "type": "quantitative"}, "x": {"field": "ha", "type": "quantitative"}, "x2": {"field": "h"}}},
          {"mark": {"type": "rule", "color": "#555", "strokeWidth": 1.2},
           "encoding": {"y": {"field": "b", "type": "quantitative"}, "x": {"field": "hb", "type": "quantitative"}, "x2": {"field": "h"}}}
        ]
      },
      {
        "width": 405, "height": 497,
        "data": {"name": "heat"},
        "mark": {"type": "rect", "stroke": "#444", "strokeWidth": 0.7, "strokeOpacity": 0.85},
        "encoding": {
          "x": {"field": "s", "type": "nominal", "sort": ["D5_3","D4_1","D4_3","D5_1","D5_2","D3_1","D4_2","N5_3","N5_1","D3_3","D3_2","N5_2","N3_1","N4_3","N4_2","N3_3","N3_2","N4_1"], "scale": {"paddingInner": 0, "paddingOuter": 0},
                "axis": {"orient": "bottom", "title": null, "labelAngle": -50, "labelFont": "Liberation Serif", "labelFontSize": 15, "labelColor": "#111", "ticks": false, "domain": false, "labelPadding": 4}},
          "y": {"field": "g", "type": "nominal", "sort": ["Shewanella","Marinomonas","Pseudoalteromonas","Aeromonas","Acinetobacter","Vibrio_678715","Streptococcus","Bact_08","Zoogloea","Escherichia_710834","Shouchella","Enterococcus_B","Comamonas_F_589250","Pseudomonas_E_647464","Chryseobacterium_796614","Methyloversatilis","Mangrovibacter","JC017","Ralstonia","Staphylococcus"], "scale": {"paddingInner": 0, "paddingOuter": 0},
                "axis": {"orient": "right", "title": null, "ticks": false, "domain": false, "labelFont": "Liberation Serif", "labelFontSize": 13, "labelColor": "#111", "labelPadding": 10}},
          "color": {"field": "v", "type": "quantitative",
                    "scale": {"domain": [0, 0.2, 0.4, 0.6, 0.8], "range": ["#F4E5B6", "#CFDDB9", "#9DCFBA", "#96C5BF", "#93BCC5"]},
                    "legend": {"title": null, "orient": "none", "legendX": 564, "legendY": -37, "direction": "vertical", "gradientLength": 185, "gradientThickness": 10, "gradientStrokeWidth": 0, "values": [0, 0.2, 0.4, 0.6, 0.8], "format": ".1~f", "labelFont": "Liberation Serif", "labelFontSize": 14, "labelColor": "#222", "labelOffset": 6, "padding": 0}}
        }
      }
    ]
  }
],
"spacing": 3,
"bounds": "full",
"resolve": {"scale": {"color": "independent", "fill": "independent"}, "legend": {"color": "independent", "fill": "independent"}}
}
